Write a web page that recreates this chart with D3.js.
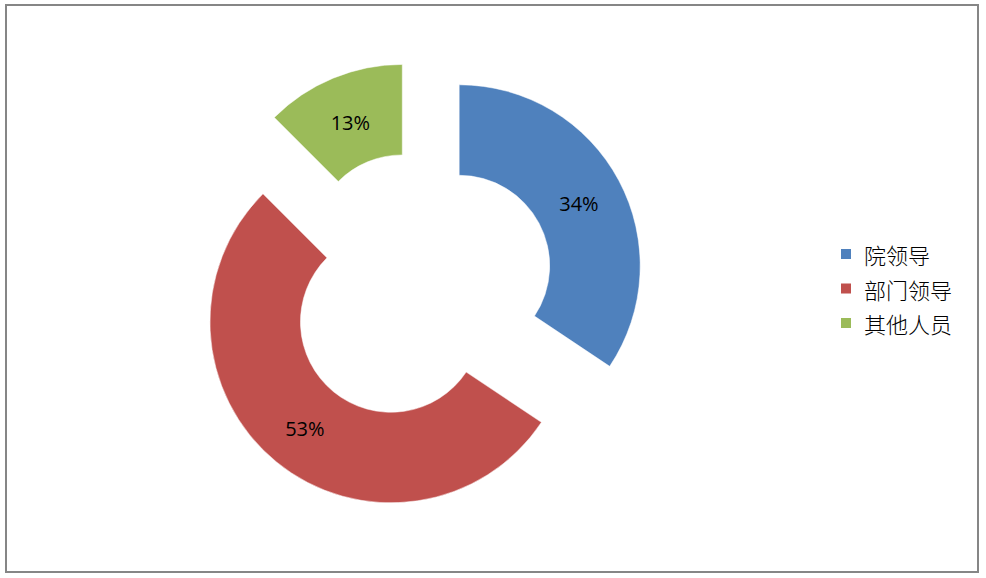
<!DOCTYPE html>
<html>
<head>
<meta charset="utf-8">
<script src="https://cdn.jsdelivr.net/npm/d3@7"></script>
<style>
html,body{margin:0;padding:0;background:#fff;}
svg{display:block;}
</style>
</head>
<body>
<svg id="chart" width="986" height="578"></svg>
<script>
const categories = ["院领导", "部门领导", "其他人员"];
const values = [11, 17, 4];
const colors = ["#4F81BD", "#C0504D", "#9BBB59"];

const svg = d3.select("#chart");
svg.append("rect").attr("x", 6).attr("y", 5).attr("width", 972).attr("height", 567)
  .attr("fill", "#fff").attr("stroke", "#868686").attr("stroke-width", 2);

const cx = 419.5, cy = 287, R = 181, r = 90.5, explode = 45;
const total = d3.sum(values);
const pie = d3.pie().sort(null).value(d => d)(values);
const arc = d3.arc().innerRadius(r).outerRadius(R);
const g = svg.append("g").attr("transform", `translate(${cx},${cy})`);

pie.forEach((p, i) => {
  const mid = (p.startAngle + p.endAngle) / 2;
  const ox = Math.sin(mid) * explode, oy = -Math.cos(mid) * explode;
  const sg = g.append("g").attr("transform", `translate(${ox},${oy})`);
  sg.append("path").attr("d", arc(p)).attr("fill", colors[i])
    .attr("stroke", "#fff").attr("stroke-width", 0.5);
  const mr = (R + r) / 2;
  sg.append("text")
    .attr("x", Math.sin(mid) * mr).attr("y", -Math.cos(mid) * mr + 2)
    .attr("text-anchor", "middle").attr("dominant-baseline", "central")
    .attr("font-family", "Open Sans, Liberation Sans, sans-serif")
    .attr("font-size", 20).attr("fill", "#000")
    .text(d3.format(".0%")(p.value / total));
});

const legend = svg.append("g");
categories.forEach((c, i) => {
  const y = 254 + i * 34.5;
  legend.append("rect").attr("x", 841).attr("y", y - 5).attr("width", 10).attr("height", 10)
    .attr("fill", colors[i]);
  legend.append("text").attr("x", 864).attr("y", y).attr("dominant-baseline", "central")
    .attr("font-family", "Noto Sans CJK SC, sans-serif").attr("font-size", 22)
    .attr("font-weight", 300)
    .attr("fill", "#000").text(c);
});
</script>
</body>
</html>
